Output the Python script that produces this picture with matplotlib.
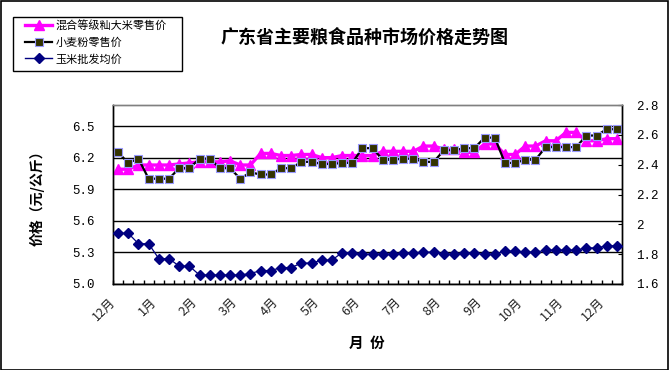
import numpy as np
import matplotlib
matplotlib.use("Agg")
import matplotlib.pyplot as plt
from matplotlib.lines import Line2D
from matplotlib.patches import Rectangle

plt.rcParams['font.family'] = ['Noto Sans CJK SC', 'DejaVu Sans']

# ---- data ----
month_labels = ['12月', '1月', '2月', '3月', '4月', '5月', '6月',
                '7月', '8月', '9月', '10月', '11月', '12月']
label_step = 4

rice = [6.09, 6.09, 6.13, 6.13, 6.13, 6.13, 6.14, 6.15, 6.16, 6.16,
        6.16, 6.17, 6.13, 6.13, 6.24, 6.24, 6.22, 6.22, 6.23, 6.23,
        6.20, 6.20, 6.22, 6.22, 6.22, 6.22, 6.26, 6.26, 6.26, 6.26,
        6.31, 6.31, 6.28, 6.28, 6.25, 6.25, 6.33, 6.33, 6.23, 6.23,
        6.31, 6.31, 6.36, 6.36, 6.44, 6.44, 6.36, 6.36, 6.38, 6.38]

flour = [6.25, 6.15, 6.19, 6.00, 6.00, 6.00, 6.10, 6.10, 6.19, 6.19,
         6.10, 6.10, 6.00, 6.06, 6.04, 6.04, 6.10, 6.10, 6.16, 6.16,
         6.14, 6.14, 6.15, 6.15, 6.29, 6.29, 6.18, 6.18, 6.19, 6.19,
         6.16, 6.16, 6.27, 6.27, 6.29, 6.29, 6.39, 6.39, 6.15, 6.15,
         6.18, 6.18, 6.30, 6.30, 6.30, 6.30, 6.41, 6.41, 6.47, 6.47]

corn = [1.94, 1.94, 1.87, 1.87, 1.77, 1.77, 1.72, 1.72, 1.66, 1.66,
        1.66, 1.66, 1.66, 1.67, 1.69, 1.69, 1.71, 1.71, 1.74, 1.74,
        1.76, 1.76, 1.81, 1.81, 1.80, 1.80, 1.80, 1.80, 1.805, 1.805,
        1.813, 1.813, 1.80, 1.80, 1.805, 1.805, 1.80, 1.80, 1.82, 1.82,
        1.813, 1.813, 1.827, 1.827, 1.827, 1.827, 1.842, 1.842, 1.856, 1.856]

series_names = ['混合等级籼大米零售价', '小麦粉零售价', '玉米批发均价']
left_ticks = [5.0, 5.3, 5.6, 5.9, 6.2, 6.5]
left_tick_labels = ['5.0', '5.3', '5.6', '5.9', '6.2', '6.5']
right_ticks = [1.6, 1.8, 2.0, 2.2, 2.4, 2.6, 2.8]
right_tick_labels = ['1.6', '1.8', '2', '2.2', '2.4', '2.6', '2.8']

title = '广东省主要粮食品种市场价格走势图'
ylabel = '价格（元/公斤）'
xlabel = '月  份'

# ---- styles ----
W, H = 669, 370
fig = plt.figure(figsize=(W / 100, H / 100), dpi=100)
fig.patch.set_facecolor('white')

ax = fig.add_axes([113 / W, 1 - 284 / H, (622 - 113) / W, (284 - 105) / H])
ax2 = ax.twinx()

x = np.arange(len(rice))
c_rice = '#FF00FF'
c_flour_face = '#333300'
c_flour_edge = '#9999FF'
c_corn = '#000080'

ax.plot(x, rice, color=c_rice, lw=2.4, marker='^', ms=6.5,
        mfc=c_rice, mec=c_rice, zorder=3)
ax.plot(x, flour, color='black', lw=1.6, marker='s', ms=5.8,
        mfc=c_flour_face, mec=c_flour_edge, mew=0.8, zorder=4)
ax2.plot(x, corn, color=c_corn, lw=0.9, marker='D', ms=5,
         mfc=c_corn, mec=c_corn, zorder=3)

ax.set_xlim(-0.5, len(rice) - 0.5)
ax.set_ylim(5.0, 6.7)
ax2.set_ylim(1.6, 2.8)

num_font = dict(family=['Liberation Mono', 'DejaVu Sans Mono'], size=9)

ax.set_yticks(left_ticks)
ax.set_yticklabels(left_tick_labels, fontdict=num_font)
ax.tick_params(axis='y', length=0, pad=13)
ax.yaxis.grid(True, color='black', lw=1.0)
ax.set_axisbelow(True)

ax2.set_yticks(right_ticks)
ax2.set_yticklabels(right_tick_labels, fontdict=num_font)
ax2.tick_params(axis='y', direction='in', length=3, pad=10, color='black')

ax.set_xticks(x[::label_step])
ax.set_xticklabels(month_labels, rotation=45, ha='right', va='top',
                   fontsize=9, color='#222222')
ax.tick_params(axis='x', which='major', length=0, pad=8)
ax.set_xticks(np.arange(-0.5, len(rice), 1), minor=True)
ax.tick_params(axis='x', which='minor', direction='in', length=3,
               color='black', width=1)

for a in (ax, ax2):
    a.spines['left'].set_color('black')
    a.spines['bottom'].set_color('black')
    a.spines['right'].set_color('black')
    a.spines['top'].set_color('#808080')
    for s in a.spines.values():
        s.set_linewidth(1.0)
ax2.patch.set_visible(False)

fig.text(365 / W, 1 - 37 / H, title, ha='center', va='center',
         fontsize=13, fontweight='bold')
fig.text(37 / W, 1 - 195 / H, ylabel, ha='center', va='center',
         rotation=90, fontsize=10, fontweight='bold')
fig.text(367 / W, 1 - 343 / H, xlabel, ha='center', va='center',
         fontsize=10.5, fontweight='bold')

# legend
handles = [
    Line2D([], [], color=c_rice, lw=2.4, marker='^', ms=6.5, mfc=c_rice, mec=c_rice),
    Line2D([], [], color='black', lw=1.6, marker='s', ms=5.8, mfc=c_flour_face,
           mec=c_flour_edge, mew=0.8),
    Line2D([], [], color=c_corn, lw=1.0, marker='D', ms=5, mfc=c_corn, mec=c_corn),
]
fig.legend(handles, series_names, loc='upper left',
           bbox_to_anchor=(22 / W, 1 - 17 / H), frameon=False, fontsize=8,
           handlelength=2.4, handletextpad=0.35, labelspacing=0.55,
           borderpad=0.3, numpoints=1, borderaxespad=0)
fig.patches.append(Rectangle((13 / W, 1 - 71 / H), (182 - 13) / W, 54 / H,
                             transform=fig.transFigure, fill=False,
                             edgecolor='black', lw=1.0))
# outer border
fig.patches.append(Rectangle((0.5 / W, 0.5 / H), (W - 1.5) / W, (H - 1.5) / H,
                             transform=fig.transFigure, fill=False,
                             edgecolor='black', lw=1.2))

fig.savefig('out.png', dpi=100)
